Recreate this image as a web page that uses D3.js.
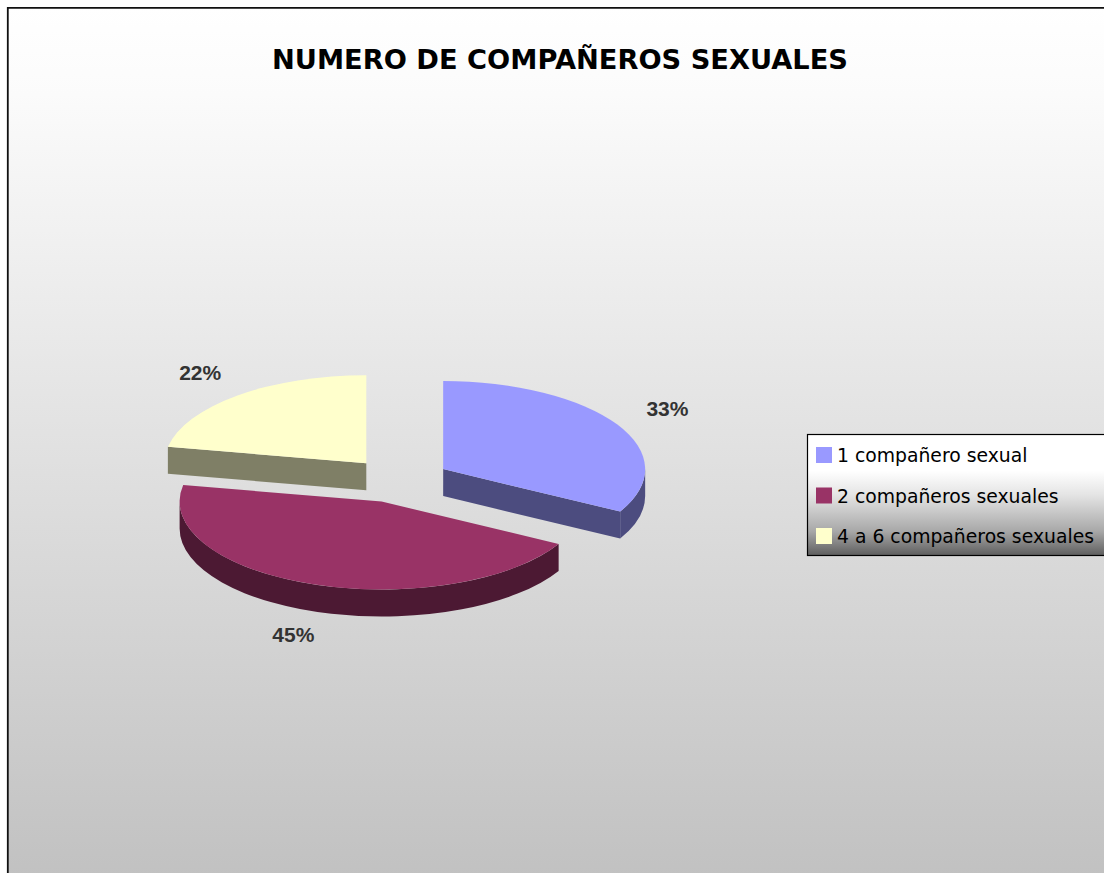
<!DOCTYPE html>
<html>
<head>
<meta charset="utf-8">
<script src="https://cdn.jsdelivr.net/npm/d3@7/dist/d3.min.js"></script>
<style>
  html, body { margin: 0; padding: 0; background: #fff; overflow: hidden; }
  svg { display: block; }
</style>
</head>
<body>
<svg id="chart" width="1104" height="873"></svg>
<script>
// Data
const categories = ["1 compañero sexual", "2 compañeros sexuales", "4 a 6 compañeros sexuales"];
const values = [33, 45, 22];
const topColors = ["#9999FF", "#993366", "#FFFFCC"];
const sideColors = ["#4C4C7F", "#4C1933", "#7F7F66"];
const title = "NUMERO DE COMPAÑEROS SEXUALES";

const W = 1104, H = 873;
const svg = d3.select("#chart");
const defs = svg.append("defs");

// Chart area background: white fading to grey downward
const bg = defs.append("linearGradient").attr("id", "bgGrad")
  .attr("x1", 0).attr("y1", 0).attr("x2", 0).attr("y2", 1);
bg.append("stop").attr("offset", "0%").attr("stop-color", "#ffffff");
bg.append("stop").attr("offset", "10%").attr("stop-color", "#fbfbfb");
bg.append("stop").attr("offset", "100%").attr("stop-color", "#c1c1c1");

const lg = defs.append("linearGradient").attr("id", "legGrad")
  .attr("x1", 0).attr("y1", 0).attr("x2", 0).attr("y2", 1);
[[0, "#ffffff"], [0.3, "#ffffff"], [0.5, "#e4e4e4"], [0.8, "#a8a8a8"], [1, "#5e5e5e"]]
  .forEach(([o, c]) => lg.append("stop").attr("offset", o).attr("stop-color", c));

svg.append("rect")
  .attr("x", 7).attr("y", 7).attr("width", W).attr("height", H)
  .attr("fill", "url(#bgGrad)");
// frame: only the top and left edges fall inside the page
svg.append("path")
  .attr("d", `M7.8,${H} L7.8,7.8 L${W},7.8`)
  .attr("fill", "none")
  .attr("stroke", "#111").attr("stroke-width", 1.8);

// Title
svg.append("text")
  .attr("x", 560).attr("y", 69)
  .attr("text-anchor", "middle")
  .attr("font-family", "'Comic Sans MS', 'DejaVu Sans', sans-serif")
  .attr("font-weight", "bold")
  .attr("font-size", 27)
  .attr("textLength", 576)
  .attr("lengthAdjust", "spacingAndGlyphs")
  .attr("fill", "#000")
  .text(title);

// 3D pie geometry
const cx = 399, cy = 480.5;   // pie centre
const rx = 202, ry = 88;      // projected radii
const depth = 27;             // thickness
const explode = 0.254;        // explosion as fraction of radius

const color = d3.scaleOrdinal().domain(categories).range(topColors);
const side = d3.scaleOrdinal().domain(categories).range(sideColors);

const pie = d3.pie().sort(null).value(d => d.value);
const arcs = pie(categories.map((c, i) => ({ name: c, value: values[i] })));
const total = d3.sum(values);

function pt(sx, sy, a, dz = 0) {
  return [sx + rx * Math.sin(a), sy - ry * Math.cos(a) + dz];
}

arcs.forEach(d => {
  const mid = (d.startAngle + d.endAngle) / 2;
  d.mid = mid;
  d.sx = cx + explode * rx * Math.sin(mid);
  d.sy = cy - explode * ry * Math.cos(mid);
});

const pieG = svg.append("g");
// paint back slices first
const order = arcs.slice().sort((a, b) => a.sy - b.sy);

order.forEach(d => {
  const g = pieG.append("g");
  const a0 = d.startAngle, a1 = d.endAngle;
  const sc = side(d.data.name);

  // radial cut walls facing the viewer
  [[a0, a0 - Math.PI / 2], [a1, a1 + Math.PI / 2]].forEach(([a, n]) => {
    if (Math.cos(n) < -1e-6) {
      const p = pt(d.sx, d.sy, a);
      const path = d3.path();
      path.moveTo(d.sx, d.sy);
      path.lineTo(p[0], p[1]);
      path.lineTo(p[0], p[1] + depth);
      path.lineTo(d.sx, d.sy + depth);
      path.closePath();
      g.append("path").attr("d", path.toString()).attr("fill", sc);
    }
  });

  // outer curved wall over the front half of the ellipse
  const lo = Math.max(a0, Math.PI / 2), hi = Math.min(a1, 3 * Math.PI / 2);
  if (hi > lo) {
    const p0 = pt(d.sx, d.sy, lo), p1 = pt(d.sx, d.sy, hi);
    const large = (hi - lo) > Math.PI ? 1 : 0;
    const dPath = `M${p0[0]},${p0[1]} A${rx},${ry} 0 ${large} 1 ${p1[0]},${p1[1]}` +
      ` L${p1[0]},${p1[1] + depth} A${rx},${ry} 0 ${large} 0 ${p0[0]},${p0[1] + depth} Z`;
    g.append("path").attr("d", dPath).attr("fill", sc);
  }

  // top face
  const s = pt(d.sx, d.sy, a0), e = pt(d.sx, d.sy, a1);
  const large = (a1 - a0) > Math.PI ? 1 : 0;
  g.append("path")
    .attr("d", `M${d.sx},${d.sy} L${s[0]},${s[1]} A${rx},${ry} 0 ${large} 1 ${e[0]},${e[1]} Z`)
    .attr("fill", color(d.data.name));
});

// Percentage labels
const fmt = d3.format(".0%");
const lfx = 1.29, lfy = 1.33;
svg.append("g").selectAll("text").data(arcs).join("text")
  .attr("x", d => d.sx + lfx * rx * Math.sin(d.mid))
  .attr("y", d => d.sy - lfy * ry * Math.cos(d.mid) + (Math.cos(d.mid) < 0 ? depth - 4 : -1))
  .attr("dy", "0.36em")
  .attr("text-anchor", "middle")
  .attr("font-family", "'Liberation Sans', Arial, sans-serif")
  .attr("font-weight", "bold")
  .attr("font-size", 21)
  .attr("fill", "#333")
  .text(d => fmt(d.data.value / total));

// Legend
const leg = svg.append("g");
leg.append("rect")
  .attr("x", 807.5).attr("y", 434.5).attr("width", 320).attr("height", 121)
  .attr("fill", "url(#legGrad)").attr("stroke", "#000").attr("stroke-width", 1.2);

const rows = leg.selectAll("g.row").data(categories).join("g")
  .attr("class", "row")
  .attr("transform", (d, i) => `translate(816, ${447 + i * 40.5})`);
rows.append("rect").attr("width", 16).attr("height", 16).attr("fill", d => color(d));
rows.append("text")
  .attr("x", 21).attr("y", 15)
  .attr("font-family", "'Comic Sans MS', 'DejaVu Sans', sans-serif")
  .attr("font-size", 18.8)
  .attr("fill", "#000")
  .text(d => d);
</script>
</body>
</html>
